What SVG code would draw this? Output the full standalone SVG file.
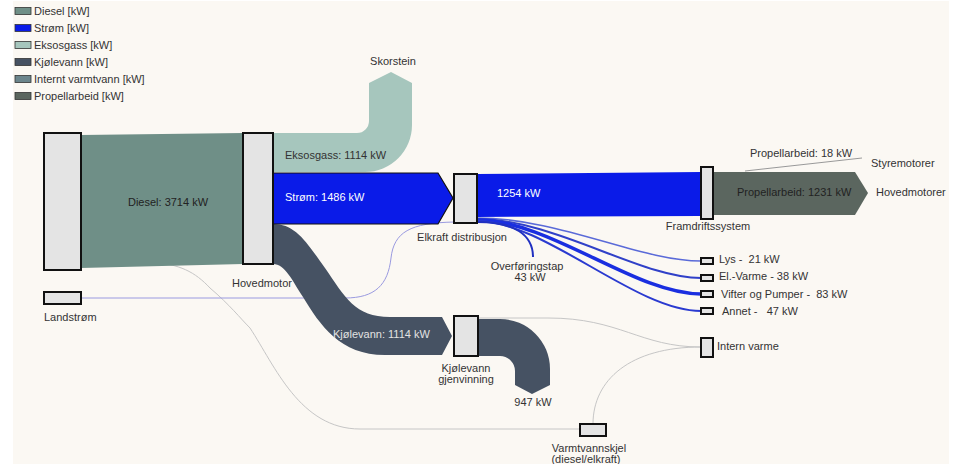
<svg xmlns="http://www.w3.org/2000/svg" width="957" height="464" viewBox="0 0 957 464">
<style>
text{font-family:"Liberation Sans",Arial,sans-serif;font-size:11px;fill:#333}
.node{fill:#e4e4e4;stroke:#111;stroke-width:2}
.sw{stroke:#333;stroke-width:0.8}
.mid{text-anchor:middle}
.grey{fill:none;stroke:#c6c6c6;stroke-width:1}
.el{fill:none;stroke-linecap:butt}
</style>
<rect x="0" y="0" width="957" height="464" fill="#ffffff"/>
<rect x="13" y="1" width="936" height="463" fill="#fbf8f3"/>

<g id="legend">
<rect class="sw" x="15" y="7.5" width="16" height="7" fill="#6f8f87"/><text x="34" y="15">Diesel [kW]</text>
<rect class="sw" x="15" y="24.5" width="16" height="7" fill="#0a1be8"/><text x="34" y="32">Strøm [kW]</text>
<rect class="sw" x="15" y="41.5" width="16" height="7" fill="#a6c6bd"/><text x="34" y="49">Eksosgass [kW]</text>
<rect class="sw" x="15" y="58.5" width="16" height="7" fill="#465263"/><text x="34" y="66">Kjølevann [kW]</text>
<rect class="sw" x="15" y="75.5" width="16" height="7" fill="#6b858c"/><text x="34" y="83">Internt varmtvann [kW]</text>
<rect class="sw" x="15" y="92.5" width="16" height="7" fill="#5b665f"/><text x="34" y="100">Propellarbeid [kW]</text>
</g>

<g id="connectors">
<path class="grey" d="M150,262 C180,264 195,272 210,288 C230,305 240,318 250,328 C275,366 300,429 360,429 L580,429"/>
<path class="grey" d="M478,318 L548,318 C620,318 640,347 701,347"/>
<path class="grey" d="M593,424 C593,380 630,347 701,347"/>
<path d="M81,298 L345,298 C375,298 388,285 391,258 C394,232 410,223 454,222" fill="none" stroke="#9a9ae0" stroke-width="1"/>
<path id="diesel" d="M81,135 L243,133 L243,264 L81,268 Z" fill="#6f8f87"/>
<path id="eksosgass" d="M273,133 L357,133 A12,12 0 0 0 369,121 L369,83 L391,72 L412,83 L412,125 A47,47 0 0 1 365,172 L273,172 Z" fill="#a6c6bd"/>
<path id="kjolevann" d="M273,224 C295,224 305,240 325,268 C345,297 355,317 390,317 L442,317 L452,336 L442,355 L385,355 C340,355 320,325 303,297 C292,280 285,264 273,264 Z" fill="#465263"/>
<path id="kjolevann947" d="M478,319 L500,319 A50,50 0 0 1 550,369 L550,385 L532,394 L515,385 L515,371 A15,15 0 0 0 500,356 L478,356 Z" fill="#465263"/>
<path id="strom" d="M273,173 L438,173 L453,198 L438,224 L273,224 Z" fill="#0a1be8" stroke="#111" stroke-width="1.2"/>
<path id="strom1254" d="M477,174 L701,172 L701,216 L477,217 Z" fill="#0a1be8"/>
<path id="propell" d="M713,172 L855,172 L868,193 L855,215 L713,215 Z" fill="#5b665f"/>
<path d="M745,171 L862,158" fill="none" stroke="#999" stroke-width="1"/>
<path class="el" d="M477,218 C560,218 640,261 701,261" stroke="#5a6ad8" stroke-width="1.5"/>
<path class="el" d="M477,219 C555,219 640,278 701,278" stroke="#3040c8" stroke-width="2"/>
<path class="el" d="M477,220 C550,220 635,294 701,294" stroke="#1a2ee0" stroke-width="3.5"/>
<path class="el" d="M477,221 C545,221 635,311 701,311" stroke="#2a3ad0" stroke-width="2"/>
<path class="el" d="M477,222 C515,222 533,235 533,257" stroke="#2030c0" stroke-width="2"/>
</g>

<g id="kilde"><rect class="node" x="44" y="133" width="37" height="137"/></g>
<g id="landstrom"><rect class="node" x="44" y="292" width="37" height="12"/><text x="44" y="321">Landstrøm</text></g>
<g id="hovedmotor"><rect class="node" x="243" y="133" width="30" height="131"/><text class="mid" x="262" y="287">Hovedmotor</text></g>
<g id="elkraft"><rect class="node" x="454" y="174" width="23" height="49"/><text class="mid" x="462" y="241">Elkraft distribusjon</text></g>
<g id="framdrift"><rect class="node" x="701" y="167" width="12" height="52"/><text class="mid" x="708" y="230">Framdriftssystem</text></g>
<g id="kjolegjenvinning"><rect class="node" x="454" y="316" width="24" height="40"/><text class="mid" x="466" y="372">Kjølevann</text><text class="mid" x="466" y="383">gjenvinning</text></g>
<g id="lys"><rect class="node" x="701" y="258" width="12" height="6"/><text x="719" y="263">Lys -&#160; 21 kW</text></g>
<g id="elvarme"><rect class="node" x="701" y="275" width="12" height="6"/><text x="719" y="280">El.-Varme - 38 kW</text></g>
<g id="vifter"><rect class="node" x="701" y="291" width="12" height="6"/><text x="721" y="298">Vifter og Pumper -&#160; 83 kW</text></g>
<g id="annet"><rect class="node" x="701" y="308" width="12" height="6"/><text x="722" y="315">Annet -&#160;&#160; 47 kW</text></g>
<g id="internvarme"><rect class="node" x="701" y="338" width="12" height="19"/><text x="717" y="350">Intern varme</text></g>
<g id="varmtvannskjel"><rect class="node" x="580" y="424" width="26" height="12"/><text class="mid" x="589" y="452">Varmtvannskjel</text><text class="mid" x="586" y="463">(diesel/elkraft)</text></g>

<g id="labels">
<text class="mid" x="168" y="206" style="fill:#222">Diesel: 3714 kW</text>
<text x="285" y="159">Eksosgass: 1114 kW</text>
<text class="mid" x="393" y="65">Skorstein</text>
<text x="285" y="201" style="fill:#fff">Strøm: 1486 kW</text>
<text x="497" y="197" style="fill:#fff">1254 kW</text>
<text x="750" y="157">Propellarbeid: 18 kW</text>
<text x="871" y="167">Styremotorer</text>
<text x="737" y="196" style="fill:#222">Propellarbeid: 1231 kW</text>
<text x="876" y="196">Hovedmotorer</text>
<text class="mid" x="527" y="270">Overføringstap</text>
<text class="mid" x="530" y="281">43 kW</text>
<text x="333" y="338" style="fill:#e2e2e2">Kjølevann: 1114 kW</text>
<text class="mid" x="533" y="406">947 kW</text>
</g>
</svg>
